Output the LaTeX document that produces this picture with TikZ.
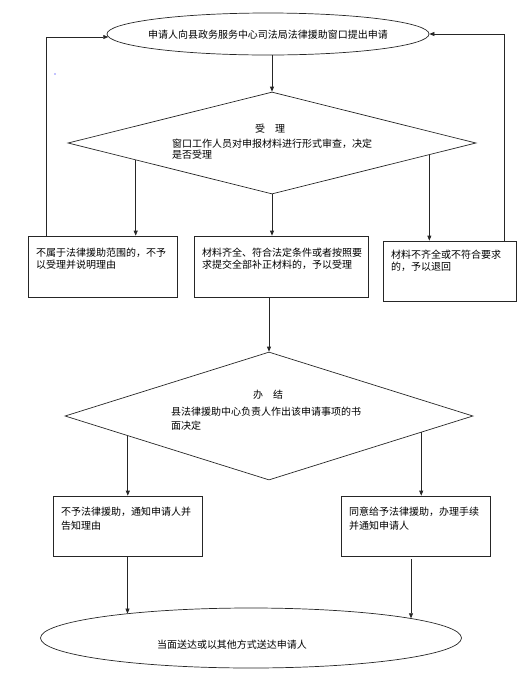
\documentclass[tikz,border=0pt]{standalone}
\usepackage{fontspec}
\newfontfamily\cjk{Noto Sans CJK SC}
\usetikzlibrary{shapes.geometric,arrows.meta,calc}
\begin{document}
\begin{tikzpicture}[x=1pt,y=-1pt,
  line/.style={draw=black!85,line width=0.7pt},
  arr/.style={line,-{Triangle[length=5pt,width=4pt]}},
  boxn/.style={line,rectangle,inner sep=0pt},
  elln/.style={line,ellipse,inner sep=0pt},
  dian/.style={line,diamond,inner sep=0pt},
  txt/.style={font=\cjk\fontsize{10}{11}\selectfont,inner sep=0pt,anchor=west},
  ctxt/.style={font=\cjk\fontsize{10}{11}\selectfont,inner sep=0pt}]
\useasboundingbox (0,0) rectangle (532,681);

% shapes
\node[elln,minimum width=322pt,minimum height=42pt] (e1) at (268,34) {};
\node[ctxt] (t1) at (268,35) {申请人向县政务服务中心司法局法律援助窗口提出申请};

\node[dian,minimum width=408pt,minimum height=102pt] (d1) at (272,143) {};
\node[ctxt] (d1h) at (270,129) {受\quad 理};
\node[txt] (d1a) at (172,144) {窗口工作人员对申报材料进行形式审查，决定};
\node[txt] (d1b) at (172,154.5) {是否受理};

\node[boxn,minimum width=149pt,minimum height=61pt] (b1) at (102.5,266.5) {};
\node[txt] (b1a) at (36,253) {不属于法律援助范围的，不予};
\node[txt] (b1b) at (36,264.5) {以受理并说明理由};

\node[boxn,minimum width=174pt,minimum height=61pt] (b2) at (281,266.5) {};
\node[txt] (b2a) at (202,253) {材料齐全、符合法定条件或者按照要};
\node[txt] (b2b) at (202,264.5) {求提交全部补正材料的，予以受理};

\node[boxn,minimum width=133pt,minimum height=60pt] (b3) at (449.5,271) {};
\node[txt] (b3a) at (391,255) {材料不齐全或不符合要求};
\node[txt] (b3b) at (391,266.5) {的，予以退回};

\node[dian,minimum width=408pt,minimum height=128pt] (d2) at (269,416) {};
\node[ctxt] (d2h) at (268,395) {办\quad 结};
\node[txt] (d2a) at (171,412) {县法律援助中心负责人作出该申请事项的书};
\node[txt] (d2b) at (171,426) {面决定};

\node[boxn,minimum width=149pt,minimum height=60pt] (b4) at (127.5,526) {};
\node[txt] (b4a) at (61,512) {不予法律援助，通知申请人并};
\node[txt] (b4b) at (61,526) {告知理由};

\node[boxn,minimum width=149pt,minimum height=60pt] (b5) at (415.5,526) {};
\node[txt] (b5a) at (349,512) {同意给予法律援助，办理手续};
\node[txt] (b5b) at (349,526) {并通知申请人};

\node[elln,minimum width=421pt,minimum height=60pt] (e2) at (251,638) {};
\node[ctxt] (t2) at (232,645) {当面送达或以其他方式送达申请人};

% small blue dot
\fill[blue] (55,74) circle (0.7pt);

% connectors
\draw[arr] (d1.north |- e1.south) -- (d1.north);

\coordinate (l1) at ($(b1.north west)+(19,0)$);
\draw[arr] (l1) |- ($(e1.west)+(1.6,3)$);
\coordinate (r1) at ($(b3.north east)+(-12,0)$);
\draw[arr] (r1) |- (e1.east);

\coordinate (p1) at ($(d1.west)!0.333!(d1.south)$);
\draw[arr] (p1) -- (p1 |- b1.north);
\draw[arr] (d1.south) -- (d1.south |- b2.north);
\coordinate (p3) at ($(d1.east)!0.230!(d1.south)$);
\draw[arr] (p3) -- (p3 |- b3.north);

\draw[arr] (d2.north |- b2.south) -- (d2.north);

\coordinate (p4) at ($(d2.west)!0.309!(d2.south)$);
\draw[arr] (p4) -- (p4 |- b4.north);
\coordinate (p5) at ($(d2.east)!0.255!(d2.south)$);
\draw[arr] (p5) -- (p5 |- b5.north);

\draw[arr] (b4.south) -- (b4.south |- e2.169);
\coordinate (q5) at ($(b5.south)+(-4.5,3)$);
\draw[arr] (q5) -- (q5 |- e2.7);
\end{tikzpicture}
\end{document}
